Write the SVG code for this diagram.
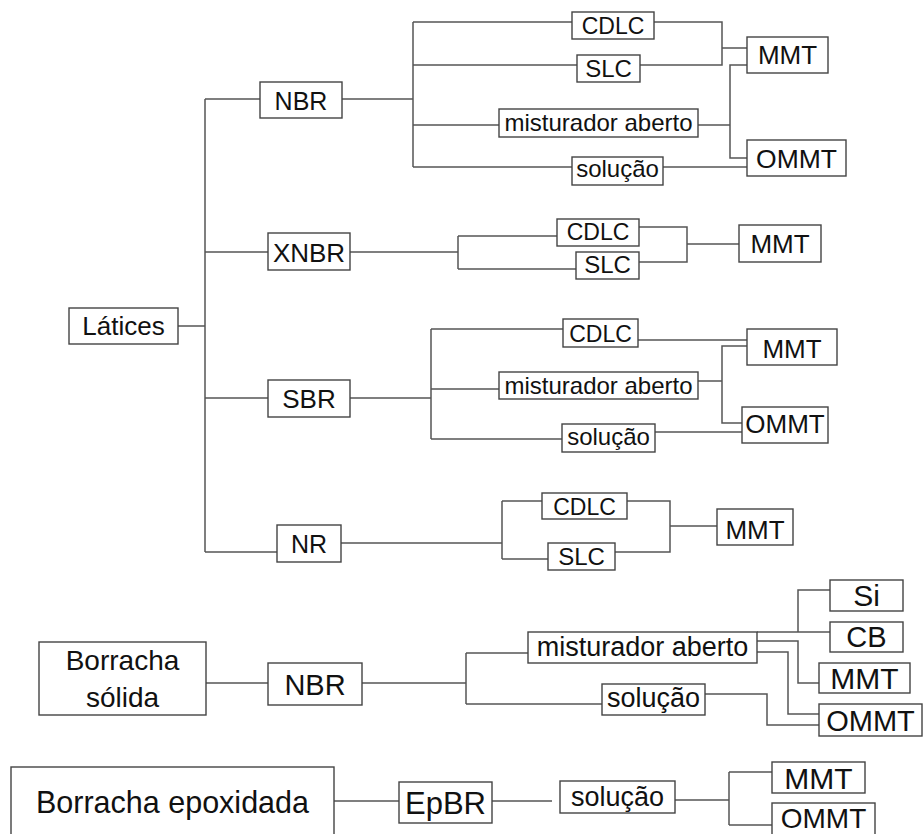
<svg xmlns="http://www.w3.org/2000/svg" width="923" height="834" viewBox="0 0 923 834">
<style>
rect{fill:#fff;stroke:#444;stroke-width:1.4}
text{font-family:"Liberation Sans",Arial,sans-serif;fill:#111;text-anchor:middle}
#connectors path{fill:none;stroke:#555;stroke-width:1.5}
</style>
<rect x="0" y="0" width="923" height="834" style="stroke:none"/>
<g id="connectors">
<path d="M178,326H205M205,99V552M205,99H260M205,252H268M205,398H268M205,552H277"/>
<path d="M342,99H413M413,22V167M413,22H572M413,65H577M413,125H499M413,167H572"/>
<path d="M654,22H722V65H640M722,48H747M698,125H730M747,65H730V158H747M663,167H747"/>
<path d="M350,252H458M458,236V269M458,236H557M458,269H576M639,227H687V262H639M687,244H739"/>
<path d="M350,398H431M431,329V439M431,329H563M431,389H499M431,439H562"/>
<path d="M638,340H747M698,381H722M747,346H722V423H742M655,432H742"/>
<path d="M341,543H502M502,501V559M502,501H542M502,559H548M627,501H670V552H615M670,526H717"/>
<path d="M206,683H268M362,683H466M466,653V704M466,653H528M466,704H602"/>
<path d="M757,632H830M798,632V590H830M757,641H798V683H819M757,652H788V714H819M705,694H767V725H819"/>
<path d="M334,801H399M492,801H552M675,800H729M729,772V825M729,772H772M729,825H772"/>
</g>
<g id="latices"><rect x="69" y="308" width="109" height="36"/><text x="123.5" y="335" font-size="26">Látices</text></g>
<g id="nbr1"><rect x="260" y="82" width="82" height="36"/><text x="301" y="110" font-size="25">NBR</text></g>
<g id="cdlc1"><rect x="572" y="12" width="82" height="27"/><text x="613" y="34" font-size="23">CDLC</text></g>
<g id="slc1"><rect x="577" y="55" width="63" height="27"/><text x="608.5" y="77" font-size="24">SLC</text></g>
<g id="mist1"><rect x="499" y="109" width="199" height="28"/><text x="598.5" y="131" font-size="24">misturador aberto</text></g>
<g id="sol1"><rect x="572" y="157" width="91" height="28"/><text x="617.5" y="177" font-size="24">solução</text></g>
<g id="mmt1"><rect x="747" y="37" width="81" height="36"/><text x="787.5" y="64" font-size="26">MMT</text></g>
<g id="ommt1"><rect x="747" y="140" width="99" height="36"/><text x="796.5" y="168" font-size="26.5">OMMT</text></g>
<g id="xnbr"><rect x="268" y="233" width="82" height="37"/><text x="309" y="262" font-size="26">XNBR</text></g>
<g id="cdlc2"><rect x="557" y="219" width="82" height="27"/><text x="598" y="240" font-size="23">CDLC</text></g>
<g id="slc2"><rect x="576" y="252" width="63" height="27"/><text x="607.5" y="273" font-size="24">SLC</text></g>
<g id="mmt2"><rect x="739" y="225" width="82" height="37"/><text x="780" y="253" font-size="26">MMT</text></g>
<g id="sbr"><rect x="268" y="380" width="82" height="37"/><text x="309" y="408" font-size="26">SBR</text></g>
<g id="cdlc3"><rect x="563" y="319" width="75" height="28"/><text x="600.5" y="342" font-size="23">CDLC</text></g>
<g id="mist3"><rect x="499" y="372" width="199" height="27"/><text x="598.5" y="394" font-size="24">misturador aberto</text></g>
<g id="sol3"><rect x="562" y="424" width="93" height="28"/><text x="608.5" y="445" font-size="24">solução</text></g>
<g id="mmt3"><rect x="747" y="329" width="90" height="36"/><text x="792" y="358" font-size="26">MMT</text></g>
<g id="ommt3"><rect x="742" y="407" width="86" height="36"/><text x="785" y="433" font-size="26">OMMT</text></g>
<g id="nr"><rect x="277" y="525" width="64" height="37"/><text x="309" y="553" font-size="25">NR</text></g>
<g id="cdlc4"><rect x="542" y="493" width="85" height="26"/><text x="584.5" y="515" font-size="23">CDLC</text></g>
<g id="slc4"><rect x="548" y="543" width="67" height="27"/><text x="581.5" y="565" font-size="24">SLC</text></g>
<g id="mmt4"><rect x="717" y="509" width="76" height="36"/><text x="755" y="539" font-size="26">MMT</text></g>
<g id="borracha-solida"><rect x="39" y="642" width="167" height="73"/><text x="122.5" y="670" font-size="28">Borracha</text><text x="122.5" y="707" font-size="28">sólida</text></g>
<g id="nbr5"><rect x="268" y="663" width="94" height="42"/><text x="315" y="695" font-size="29">NBR</text></g>
<g id="mist5"><rect x="528" y="632" width="229" height="31"/><text x="642.5" y="656" font-size="27">misturador aberto</text></g>
<g id="sol5"><rect x="602" y="684" width="103" height="31"/><text x="653.5" y="707" font-size="27">solução</text></g>
<g id="si"><rect x="830" y="580" width="73" height="31"/><text x="866.5" y="606" font-size="30">Si</text></g>
<g id="cb"><rect x="830" y="622" width="73" height="30"/><text x="866.5" y="647" font-size="29">CB</text></g>
<g id="mmt5"><rect x="819" y="663" width="91" height="30"/><text x="864.5" y="689" font-size="30">MMT</text></g>
<g id="ommt5"><rect x="819" y="704" width="103" height="32"/><text x="870.5" y="731" font-size="29">OMMT</text></g>
<g id="borracha-epoxidada"><rect x="11" y="767" width="323" height="90"/><text x="172.5" y="813" font-size="30.5">Borracha epoxidada</text></g>
<g id="epbr"><rect x="399" y="782" width="93" height="41"/><text x="445.5" y="814" font-size="31">EpBR</text></g>
<g id="sol6"><rect x="560" y="781" width="115" height="32"/><text x="617.5" y="806" font-size="27">solução</text></g>
<g id="mmt6"><rect x="772" y="762" width="93" height="31"/><text x="818.5" y="789" font-size="30">MMT</text></g>
<g id="ommt6"><rect x="772" y="803" width="103" height="40"/><text x="823.5" y="828" font-size="28">OMMT</text></g>
</svg>
